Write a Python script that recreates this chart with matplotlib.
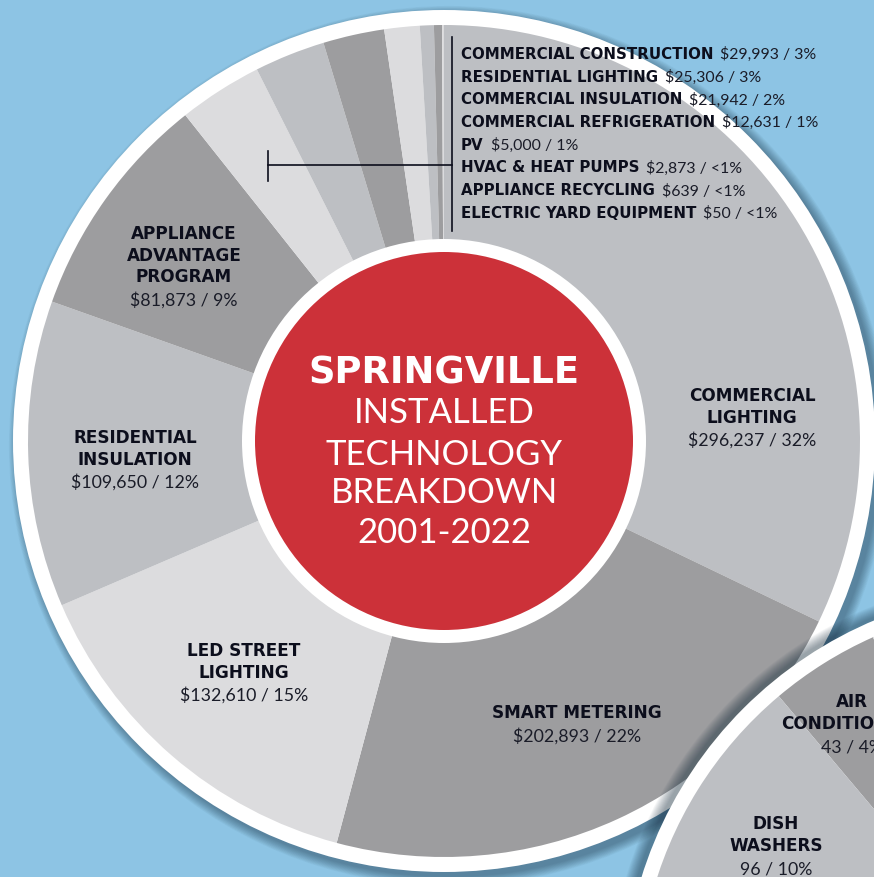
import matplotlib
matplotlib.use("Agg")
import matplotlib.pyplot as plt
from matplotlib.patches import Circle

# ---------------- data ----------------
categories = ["COMMERCIAL\nLIGHTING", "SMART METERING", "LED STREET\nLIGHTING",
              "RESIDENTIAL\nINSULATION", "APPLIANCE\nADVANTAGE\nPROGRAM",
              "COMMERCIAL CONSTRUCTION", "RESIDENTIAL LIGHTING", "COMMERCIAL INSULATION",
              "COMMERCIAL REFRIGERATION", "PV", "HVAC & HEAT PUMPS",
              "APPLIANCE RECYCLING", "ELECTRIC YARD EQUIPMENT"]
amounts = [296237, 202893, 132610, 109650, 81873, 29993, 25306, 21942,
           12631, 5000, 2873, 639, 50]
pct_labels = ["32%", "22%", "15%", "12%", "9%", "3%", "3%", "2%", "1%", "1%",
              "<1%", "<1%", "<1%"]

second_categories = ["AIR\nCONDITIONING", "DISH\nWASHERS"]
second_counts = [43, 96]
second_pct_labels = ["4%", "10%"]
second_total = 960  # 96 units = 10%

title_lines = ["SPRINGVILLE", "INSTALLED", "TECHNOLOGY", "BREAKDOWN", "2001-2022"]

# ---------------- style ----------------
W, H = 874, 878
BG = "#8dc4e4"
LIGHT, MED, DARK = "#dcdcde", "#bdbfc3", "#9d9d9f"
RED = "#cc3139"
INK = "#0c0e1c"
BOLD = dict(family="DejaVu Sans", fontweight="bold", color=INK)
THIN = dict(family="Lato", fontweight="normal", color="#1a1c28")

fig = plt.figure(figsize=(W / 100, H / 100), dpi=100, facecolor=BG)
ax = fig.add_axes([0, 0, 1, 1])
ax.set_facecolor(BG)


def Y(y):
    return H - y


def fix_limits():
    ax.set_xlim(0, W)
    ax.set_ylim(0, H)
    ax.set_aspect("equal")
    ax.axis("off")


# ---------------- main pie ----------------
c1 = (444, Y(442))
R1 = 416
for i in range(14):
    ax.add_patch(Circle((c1[0] + 5, c1[1] - 5), R1 + 15 + i * 0.7,
                        color="#0b2233", alpha=0.03, lw=0, zorder=0.5))
ax.add_patch(Circle(c1, R1 + 15, color="white", lw=0, zorder=1))
cycle = [MED, DARK, LIGHT]
colors = [cycle[i % 3] for i in range(len(amounts))]
wedges, _ = ax.pie(amounts, colors=colors, startangle=90, counterclock=False,
                   center=c1, radius=R1, wedgeprops=dict(linewidth=0))
for w in wedges:
    w.set_zorder(2)
ax.add_patch(Circle(c1, 202, color="white", lw=0, zorder=3))
ax.add_patch(Circle(c1, 189, color=RED, lw=0, zorder=3.1))
fix_limits()

# centre title
title_base = [383, 423, 465, 503, 543]
for k, (line, yb) in enumerate(zip(title_lines, title_base)):
    if k == 0:
        ax.text(c1[0], Y(yb), line, ha="center", va="baseline", fontsize=26.6,
                family="DejaVu Sans", fontweight="bold", color="white", zorder=4)
    else:
        ax.text(c1[0], Y(yb), line, ha="center", va="baseline", fontsize=25,
                family="Lato", fontweight="normal", color="white", zorder=4)

# labels of big slices: (x centre, first baseline)
label_pos = [(752, 401), (577, 718), (244, 656), (135, 443), (184, 239)]
for i, (lx, yb) in enumerate(label_pos):
    lines = categories[i].split("\n")
    for j, ln in enumerate(lines):
        ax.text(lx, Y(yb + j * 21.6), ln, ha="center", va="baseline",
                fontsize=12.2, zorder=5, **BOLD)
    ax.text(lx, Y(yb + (len(lines) - 1) * 21.6 + 23.5),
            f"${amounts[i]:,} / {pct_labels[i]}", ha="center", va="baseline",
            fontsize=12.8, zorder=5, **THIN)

# bracket
ax.plot([452, 452], [Y(38), Y(232)], color=INK, lw=1.2, zorder=5)
ax.plot([268, 452], [Y(166), Y(166)], color=INK, lw=1.2, zorder=5)
ax.plot([268, 268], [Y(152), Y(182)], color=INK, lw=1.2, zorder=5)

# legend for small slices
fig.canvas.draw()
renderer = fig.canvas.get_renderer()
for r, i in enumerate(range(5, len(amounts))):
    yb = Y(59 + r * 22.7)
    t = ax.text(461, yb, categories[i], ha="left", va="baseline", fontsize=10.8,
                zorder=5, **BOLD)
    bb = t.get_window_extent(renderer=renderer)
    x_end = ax.transData.inverted().transform((bb.x1, bb.y0))[0]
    ax.text(x_end + 7, yb, f"${amounts[i]:,} / {pct_labels[i]}", ha="left",
            va="baseline", fontsize=11.4, zorder=5, **THIN)

# ---------------- second pie (bottom right) ----------------
c2 = (1034, Y(1000))
R2 = 396
for i in range(14):
    ax.add_patch(Circle((c2[0] - 4, c2[1] + 2), R2 + 15 + i * 0.8,
                        color="#0b2233", alpha=0.035, lw=0, zorder=6))
ax.add_patch(Circle(c2, R2 + 15, color="white", lw=0, zorder=6.5))
rest = second_total - sum(second_counts)
w2, _ = ax.pie(second_counts + [rest], colors=[DARK, MED, LIGHT], startangle=114,
               counterclock=True, center=c2, radius=R2, wedgeprops=dict(linewidth=0))
for w in w2:
    w.set_zorder(7)

second_pos = [(852, 707), (776, 829)]
for i, (lx, yb) in enumerate(second_pos):
    lines = second_categories[i].split("\n")
    for j, ln in enumerate(lines):
        ax.text(lx, Y(yb + j * 21.6), ln, ha="center", va="baseline",
                fontsize=12.2, zorder=8, clip_on=False, **BOLD)
    ax.text(lx, Y(yb + (len(lines) - 1) * 21.6 + 24),
            f"{second_counts[i]} / {second_pct_labels[i]}", ha="center",
            va="baseline", fontsize=12.8, zorder=8, **THIN)

fix_limits()
fig.savefig("out.png", dpi=100, facecolor=BG)
